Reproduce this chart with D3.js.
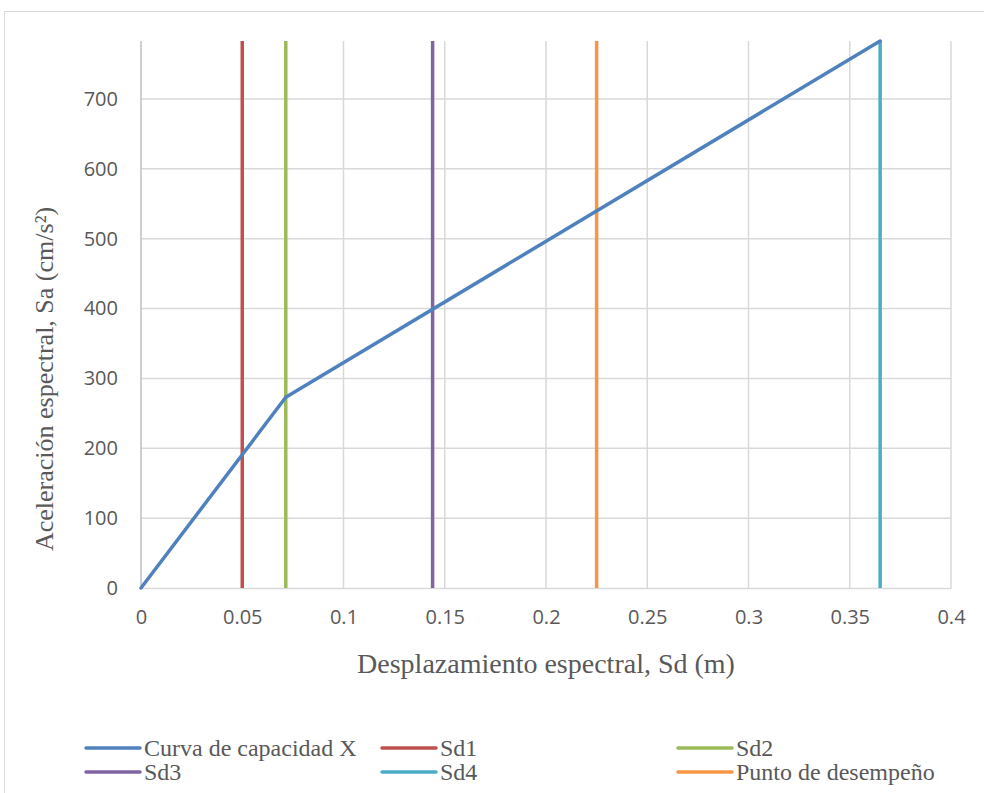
<!DOCTYPE html>
<html>
<head>
<meta charset="utf-8">
<script src="https://cdn.jsdelivr.net/npm/d3@7"></script>
<style>
  html, body { margin: 0; padding: 0; background: #ffffff; }
  svg { display: block; }
</style>
</head>
<body>
<svg id="chart" width="984" height="793"></svg>
<script>
// Capacity curve (Sd in m, Sa in cm/s²)
const curveSd = [0, 0.0715, 0.365];
const curveSa = [0, 273, 783];

// Vertical reference lines at characteristic displacements
const markerNames = ["Sd1", "Sd2", "Sd3", "Sd4", "Punto de desempeño"];
const markerSd = [0.05, 0.0715, 0.144, 0.365, 0.225];
const markerColors = ["#C0504D", "#9BBB59", "#8064A2", "#4BACC6", "#F79646"];
const curveName = "Curva de capacidad X";
const curveColor = "#4F81BD";

const xTicks = [0, 0.05, 0.1, 0.15, 0.2, 0.25, 0.3, 0.35, 0.4];
const yTicks = [0, 100, 200, 300, 400, 500, 600, 700];
const yMax = 783;

const xTitle = "Desplazamiento espectral, Sd (m)";
const yTitle = "Aceleración espectral, Sa (cm/s²)";

const svg = d3.select("#chart");
const plot = { left: 141, right: 951, top: 41, bottom: 588 };
const serif = "'Liberation Serif', 'Times New Roman', serif";
const sans = "'Open Sans', sans-serif";

const x = d3.scaleLinear().domain([0, 0.4]).range([plot.left, plot.right]);
const y = d3.scaleLinear().domain([0, yMax]).range([plot.bottom, plot.top]);

// Outer chart frame
svg.append("rect")
  .attr("x", 4.5).attr("y", 11.5)
  .attr("width", 1000).attr("height", 800)
  .attr("fill", "none").attr("stroke", "#d9d9d9").attr("stroke-width", 1);

// Gridlines
svg.append("g").selectAll("line").data(yTicks.filter(d => d > 0)).join("line")
  .attr("x1", plot.left).attr("x2", plot.right)
  .attr("y1", d => y(d)).attr("y2", d => y(d))
  .attr("stroke", "#d9d9d9").attr("stroke-width", 1.5);
svg.append("g").selectAll("line").data(xTicks.filter(d => d > 0)).join("line")
  .attr("x1", d => x(d)).attr("x2", d => x(d))
  .attr("y1", plot.top).attr("y2", plot.bottom)
  .attr("stroke", "#d9d9d9").attr("stroke-width", 1.5);

// Axes
const xAxis = d3.axisBottom(x).tickValues(xTicks).tickSize(0).tickPadding(22)
  .tickFormat(d => d3.format("")(+d.toFixed(2)));
const gx = svg.append("g").attr("transform", `translate(0,${plot.bottom})`).call(xAxis);
gx.select(".domain").attr("stroke", "#d9d9d9").attr("stroke-width", 1.5);
gx.selectAll("text")
  .attr("fill", "#595959").attr("font-family", sans).attr("font-size", 20);

const yAxis = d3.axisLeft(y).tickValues(yTicks).tickSize(0).tickPadding(23);
const gy = svg.append("g").attr("transform", `translate(${plot.left},0)`).call(yAxis);
gy.select(".domain").attr("stroke", "#bfbfbf").attr("stroke-width", 1.5)
  .attr("d", `M0,${plot.bottom}V${plot.top}`);
gy.selectAll("text")
  .attr("fill", "#595959").attr("font-family", sans).attr("font-size", 20);

// Marker lines
const markers = markerNames.map((n, i) => ({ name: n, sd: markerSd[i], color: markerColors[i] }));
const line = d3.line().x(d => x(d[0])).y(d => y(d[1]));
svg.append("g").selectAll("path").data(markers).join("path")
  .attr("d", d => line([[d.sd, 0], [d.sd, yMax]]))
  .attr("fill", "none").attr("stroke", d => d.color).attr("stroke-width", 3.5);

// Capacity curve
svg.append("path")
  .datum(curveSd.map((d, i) => [d, curveSa[i]]))
  .attr("d", line)
  .attr("fill", "none").attr("stroke", curveColor).attr("stroke-width", 3.5)
  .attr("stroke-linejoin", "round").attr("stroke-linecap", "round");

// Axis titles
svg.append("text")
  .attr("x", 546).attr("y", 673)
  .attr("text-anchor", "middle")
  .attr("font-family", serif).attr("font-size", 28)
  .attr("fill", "#595959").text(xTitle);
svg.append("text")
  .attr("transform", `translate(53,379) rotate(-90)`)
  .attr("text-anchor", "middle")
  .attr("font-family", serif).attr("font-size", 26)
  .attr("fill", "#595959").text(yTitle);

// Legend: Curva, Sd1, Sd2 / Sd3, Sd4, Punto
const legendItems = [{ name: curveName, color: curveColor }].concat(
  markers.map(m => ({ name: m.name, color: m.color }))
);
const colX = [86, 382, 678];
const rowY = [748, 772];
const lg = svg.append("g").selectAll("g").data(legendItems).join("g")
  .attr("transform", (d, i) => `translate(${colX[i % 3]},${rowY[Math.floor(i / 3)]})`);
lg.append("line").attr("x1", 0).attr("x2", 54).attr("y1", 0).attr("y2", 0)
  .attr("stroke", d => d.color).attr("stroke-width", 3.5).attr("stroke-linecap", "round");
lg.append("text").attr("x", 58).attr("y", 8)
  .attr("font-family", serif).attr("font-size", 24)
  .attr("fill", "#595959").text(d => d.name);
</script>
</body>
</html>
